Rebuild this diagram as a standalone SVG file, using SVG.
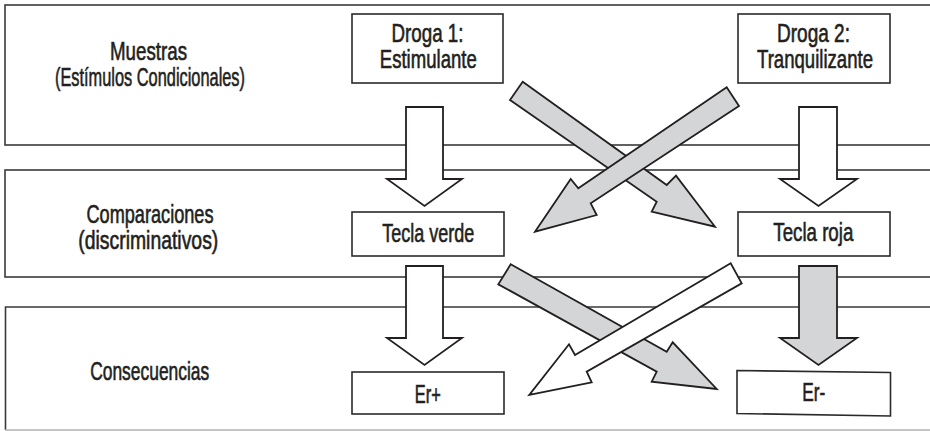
<svg xmlns="http://www.w3.org/2000/svg" width="930" height="431" viewBox="0 0 930 431">
<style>
.band{fill:#fff;stroke:#3a3a3a;stroke-width:1.6}
.box{fill:#fff;stroke:#2a2a2a;stroke-width:1.6}
.t{font-family:"Liberation Sans",Arial,sans-serif;font-size:25px;fill:#231f20;stroke:#231f20;stroke-width:0.6;text-anchor:middle}
.aw{fill:#fff;stroke:#231f20;stroke-width:1.8;stroke-linejoin:miter}
.ag{fill:#d4d5d7;stroke:#231f20;stroke-width:1.8;stroke-linejoin:miter}
</style>
<rect width="930" height="431" fill="#fff"/>
<g id="band-muestras">
<rect class="band" x="5" y="5" width="935" height="140"/>
<text class="t" x="148.5" y="60" textLength="77" lengthAdjust="spacingAndGlyphs">Muestras</text>
<text class="t" x="150" y="86" textLength="190" lengthAdjust="spacingAndGlyphs">(Estímulos Condicionales)</text>
</g>
<g id="band-comparaciones">
<rect class="band" x="5" y="170" width="935" height="107"/>
<text class="t" x="150" y="222.5" textLength="127" lengthAdjust="spacingAndGlyphs">Comparaciones</text>
<text class="t" x="148.3" y="248.5" textLength="140" lengthAdjust="spacingAndGlyphs">(discriminativos)</text>
</g>
<g id="band-consecuencias">
<path d="M940,307 H5.5 V430" fill="none" stroke="#3a3a3a" stroke-width="1.6"/>
<line x1="5" y1="430" x2="930" y2="430" stroke="#b0b0b0" stroke-width="1.6"/>
<text class="t" x="149.7" y="380" textLength="119" lengthAdjust="spacingAndGlyphs">Consecuencias</text>
</g>
<g id="droga1">
<rect class="box" x="352" y="14" width="151" height="69"/>
<text class="t" x="427.5" y="42" textLength="72" lengthAdjust="spacingAndGlyphs">Droga 1:</text>
<text class="t" x="428.3" y="68" textLength="97" lengthAdjust="spacingAndGlyphs">Estimulante</text>
</g>
<g id="droga2">
<rect class="box" x="738" y="14" width="152" height="69"/>
<text class="t" x="813.5" y="42" textLength="73" lengthAdjust="spacingAndGlyphs">Droga 2:</text>
<text class="t" x="815" y="68" textLength="116" lengthAdjust="spacingAndGlyphs">Tranquilizante</text>
</g>
<g id="tecla-verde">
<rect class="box" x="352" y="212" width="152" height="44"/>
<text class="t" x="428.2" y="242" textLength="92" lengthAdjust="spacingAndGlyphs">Tecla verde</text>
</g>
<g id="tecla-roja">
<rect class="box" x="738" y="212" width="152" height="44"/>
<text class="t" x="813.3" y="241" textLength="80" lengthAdjust="spacingAndGlyphs">Tecla roja</text>
</g>
<g id="er-plus">
<rect class="box" x="352" y="372" width="152" height="42"/>
<text class="t" x="427.8" y="403" textLength="26" lengthAdjust="spacingAndGlyphs">Er+</text>
</g>
<g id="er-minus">
<polygon class="box" points="737,370.5 890.5,372.5 890.5,416 737,413.5"/>
<text class="t" x="813.7" y="401" textLength="23" lengthAdjust="spacingAndGlyphs">Er-</text>
</g>
<g id="connectors">
<path class="aw" d="M406,107 H443 V179 H462 L424.5,206 L387,179 H406 Z"/>
<path class="aw" d="M799,107 H837 V179 H857 L818.5,206 L780,179 H799 Z"/>
<path class="aw" d="M406,266 H443 V338 H462 L424.5,365 L387,338 H406 Z"/>
<path class="ag" d="M799,266 H837 V338 H857 L818.5,365 L780,338 H799 Z"/>
<path class="ag" d="M522.7,81.7 L666.7,185 L676,175.7 L715,226.7 L651.7,211.7 L656.7,201.7 L510,100 Z"/>
<path class="ag" d="M726.7,87.3 L578.3,188.3 L570.7,179 L535,231.7 L596.7,215 L590.7,203.3 L739,106 Z"/>
<path class="ag" d="M510.7,264.3 L666.7,351.7 L672.7,342.3 L716.7,389 L651.7,381.7 L656.7,371.7 L498.3,284.3 Z"/>
<path class="aw" d="M730.7,263.3 L575,355 L569,344.3 L529.3,395 L591.7,382.3 L586.7,371.7 L741.7,283.3 Z"/>
</g>
</svg>
